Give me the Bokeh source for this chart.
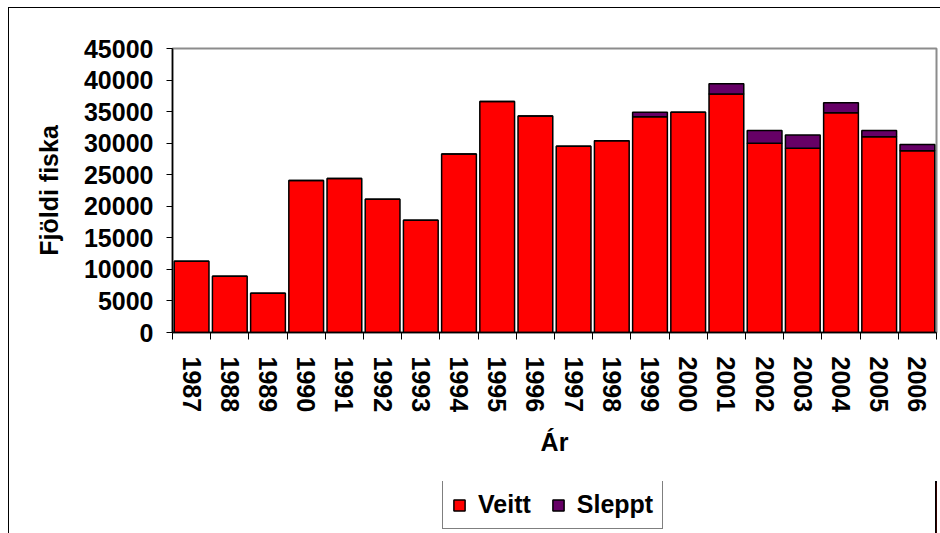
from bokeh.plotting import figure
from bokeh.layouts import column
from bokeh.models import (ColumnDataSource, FixedTicker, Legend, LegendItem,
                          NumeralTickFormatter, Range1d)
from bokeh.embed import file_html
from bokeh.resources import INLINE

years = [1987, 1988, 1989, 1990, 1991, 1992, 1993, 1994, 1995, 1996,
         1997, 1998, 1999, 2000, 2001, 2002, 2003, 2004, 2005, 2006]
veitt = [11300, 8900, 6200, 24100, 24400, 21100, 17800, 28300, 36600, 34300,
         29500, 30400, 34200, 34900, 37800, 30000, 29200, 34800, 31000, 28800]
sleppt = [0, 0, 0, 0, 0, 0, 0, 0, 0, 0,
          0, 0, 700, 0, 1600, 2000, 2100, 1600, 1000, 1000]
y_ticks = [0, 5000, 10000, 15000, 20000, 25000, 30000, 35000, 40000, 45000]
series = ["veitt", "sleppt"]
series_labels = ["Veitt", "Sleppt"]
colors = ["#FF0000", "#660066"]

FONT = "Liberation Sans"

source = ColumnDataSource(dict(year=years, veitt=veitt, sleppt=sleppt))

p = figure(frame_width=764, frame_height=284,
           x_range=Range1d(years[0] - 0.5, years[-1] + 0.5),
           y_range=Range1d(y_ticks[0], y_ticks[-1]),
           output_backend="svg", toolbar_location=None,
           min_border_left=163, min_border_top=40,
           min_border_right=4, min_border_bottom=149)

renderers = p.vbar_stack(series, x="year", width=0.91, color=colors,
                         line_color="black", line_width=1.5, source=source)

p.xgrid.visible = False
p.ygrid.visible = False
p.outline_line_color = "#8c8c8c"
p.outline_line_width = 2

# x axis
xa = p.xaxis[0]
xa.ticker = FixedTicker(ticks=years,
                        minor_ticks=[y - 0.5 for y in years] + [years[-1] + 0.5])
xa.formatter = NumeralTickFormatter(format="0")
xa.major_label_orientation = "vertical"
xa.major_tick_in = 0
xa.major_tick_out = 0
xa.minor_tick_in = 0
xa.minor_tick_out = 7
xa.minor_tick_line_color = "black"
xa.axis_line_color = "black"
xa.axis_line_width = 1.5
xa.major_label_standoff = 17
xa.axis_label = "Ár"
xa.axis_label_standoff = 13

# y axis
ya = p.yaxis[0]
ya.ticker = FixedTicker(ticks=y_ticks)
ya.formatter = NumeralTickFormatter(format="0")
ya.major_tick_in = 0
ya.major_tick_out = 6
ya.minor_tick_line_color = None
ya.axis_line_color = "black"
ya.axis_line_width = 1.5
ya.major_label_standoff = 13
ya.axis_label = "Fjöldi fiska"
ya.axis_label_standoff = 18

for ax in (xa, ya):
    ax.major_label_text_font = FONT
    ax.major_label_text_font_style = "bold"
    ax.major_label_text_font_size = "25px"
    ax.major_label_text_color = "black"
    ax.axis_label_text_font = FONT
    ax.axis_label_text_font_style = "bold"
    ax.axis_label_text_font_size = "25px"
    ax.axis_label_text_color = "black"
    ax.major_tick_line_color = "black"

# legend lives in a full-width companion strip placed under the chart;
# its frame is aligned with the main chart's frame by the column layout
lg = figure(width=931, height=52, x_range=Range1d(0, 1), y_range=Range1d(0, 1),
            x_axis_type=None, y_axis_type=None, output_backend="svg",
            toolbar_location=None, min_border=0,
            min_border_left=0, min_border_right=0,
            min_border_top=0, min_border_bottom=0)
lg.xgrid.visible = False
lg.ygrid.visible = False
lg.outline_line_color = None

# same stacked bars, outside this strip's visible range; used only for swatches
swatches = lg.vbar_stack(series, x="year", width=0.91, color=colors,
                         line_color="black", line_width=1.5, source=source)

legend = Legend(items=[LegendItem(label=lab, renderers=[r])
                       for lab, r in zip(series_labels, swatches)],
                orientation="horizontal", location=(270, 4),
                border_line_color="black", border_line_width=1,
                label_text_font=FONT, label_text_font_style="bold",
                label_text_font_size="25px", label_text_color="black",
                label_height=27, glyph_width=14, glyph_height=14,
                padding=9, spacing=20, label_standoff=12, margin=0)
lg.add_layout(legend, "center")

layout = column(p, lg, spacing=0)
layout.margin = (7, 0, 0, 8)
layout.styles = {"border-left": "1px solid black", "border-top": "1px solid black"}

open("out.html", "w").write(file_html(layout, INLINE))
